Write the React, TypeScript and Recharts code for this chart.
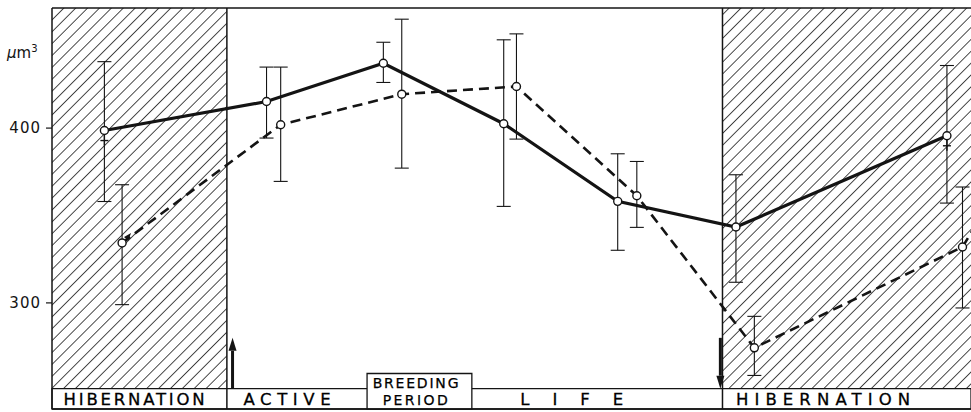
import { LineChart, Line, XAxis, YAxis, ErrorBar, ReferenceArea, ReferenceLine, ReferenceDot } from 'recharts'

// solid line (female), months counted from the first tick of the scale
const FEMALE_MONTH = [0.79, 3.08, 4.73, 6.43, 8.04, 9.71, 12.69]
const FEMALE_MEAN = [398.6, 415.2, 437.1, 402.5, 358.1, 343.4, 395.6]
const FEMALE_LOW = [358, 394.3, 426.1, 355.2, 330.1, 311.8, 357.1]
const FEMALE_HIGH = [438, 434.9, 449.1, 450.5, 385.3, 373.3, 435.8]
const FEMALE_SYMBOL = [true, false, false, false, false, false, true]

// dashed line (male); the last point lies past the right edge of the figure
const MALE_MONTH = [1.04, 3.28, 4.99, 6.61, 8.31, 9.97, 12.91, 13.4]
const MALE_MEAN = [334.3, 401.9, 419.4, 423.8, 361.3, 274.3, 332, 364.5]
const MALE_LOW = [299, 369.5, 377.1, 393.7, 343.2, 258.5, 297.1, null]
const MALE_HIGH = [367.6, 434.9, 462.3, 453.9, 380.9, 292.3, 366.3, null]
const MALE_SYMBOL = [true, false, false, false, false, false, false, false]

const Y_TICKS = [300, 400]
const MONTH_TICKS = [1, 2, 3, 4, 5, 6, 7, 8, 9, 10, 11, 12, 13]

const X_MIN = 0.05
const X_MAX = 13.03
const Y_MIN = 239.3
const Y_MAX = 468.7
const STRIP_TOP = 250.9
const BREEDING_TOP = 259.6
const ARROW_TOP = 280

const HIBERNATION_START = [X_MIN, 9.52]
const HIBERNATION_END = [2.52, X_MAX]
const BREEDING_START = 4.5
const BREEDING_END = 5.98
const ARRIVAL_MONTH = 2.6
const DEPARTURE_MONTH = 9.49

const STRIP_LABELS = ['HIBERNATION', 'ACTIVE', 'LIFE', 'HIBERNATION']
const STRIP_LABEL_MONTH = [1.21, 3.37, 7.39, 10.94]
const STRIP_SPACING = [2.8, 5.6, 23, 6.1]

const INK = '#141414'
const FONT = '"DejaVu Sans", sans-serif'

const build = (
  months: number[],
  means: number[],
  lows: (number | null)[],
  highs: (number | null)[],
  symbols: boolean[],
) =>
  months.map((m, i) => ({
    m,
    v: means[i],
    err: lows[i] == null || highs[i] == null ? undefined : [means[i] - (lows[i] as number), (highs[i] as number) - means[i]],
    sym: symbols[i],
  }))

const femaleData = build(FEMALE_MONTH, FEMALE_MEAN, FEMALE_LOW, FEMALE_HIGH, FEMALE_SYMBOL)
const maleData = build(MALE_MONTH, MALE_MEAN, MALE_LOW, MALE_HIGH, MALE_SYMBOL)

const femaleDot = (props: any) => {
  const { cx, cy, index, payload } = props
  return (
    <g key={`f${index}`}>
      {payload.sym && (
        <g stroke={INK} strokeWidth={1.4}>
          <line x1={cx} y1={cy + 4} x2={cx} y2={cy + 15} />
          <line x1={cx - 4} y1={cy + 10} x2={cx + 4} y2={cy + 10} />
        </g>
      )}
      <circle cx={cx} cy={cy} r={4} fill="#fff" stroke={INK} strokeWidth={1.4} />
    </g>
  )
}

const maleDot = (props: any) => {
  const { cx, cy, index, payload } = props
  return (
    <g key={`m${index}`}>
      {payload.sym && (
        <polygon
          points={`${cx + 9},${cy - 10} ${cx + 2},${cy - 6} ${cx + 6},${cy - 2}`}
          fill={INK}
        />
      )}
      <circle cx={cx} cy={cy} r={4} fill="#fff" stroke={INK} strokeWidth={1.4} />
    </g>
  )
}

const arrowShape = (props: any) => {
  const { x1, y1, x2, y2 } = props
  const dir = y2 < y1 ? -1 : 1
  const headLen = 13
  return (
    <g>
      <line x1={x1} y1={y1} x2={x2} y2={y2 - dir * headLen} stroke={INK} strokeWidth={3} />
      <polygon
        points={`${x2},${y2} ${x2 - 4},${y2 - dir * headLen} ${x2 + 4},${y2 - dir * headLen}`}
        fill={INK}
      />
    </g>
  )
}

const stripLabel = (text: string, spacing: number) => (props: any) => {
  const { viewBox } = props
  const cx = viewBox.x + viewBox.width / 2 + spacing / 2
  const cy = viewBox.y + viewBox.height / 2
  return (
    <text
      x={cx}
      y={cy + 6}
      textAnchor="middle"
      fontFamily={FONT}
      fontSize={16.5}
      letterSpacing={spacing}
      fill="#000"
      stroke="#000"
      strokeWidth={0.3}
    >
      {text}
    </text>
  )
}

const breedingLabel = (props: any) => {
  const { viewBox } = props
  const cx = viewBox.x + viewBox.width / 2 - 3
  const top = viewBox.y
  return (
    <text textAnchor="middle" fontFamily={FONT} fontSize={14} fill="#000" stroke="#000" strokeWidth={0.25}>
      <tspan x={cx} y={top + 14} letterSpacing={1.8}>BREEDING</tspan>
      <tspan x={cx} y={top + 31} letterSpacing={2.4}>PERIOD</tspan>
    </text>
  )
}

const unitLabel = (props: any) => {
  const { viewBox } = props
  return (
    <text x={viewBox.x + 7} y={viewBox.y + 50} fontFamily={FONT} fontSize={15} fill={INK}>
      <tspan fontStyle="italic">µ</tspan>
      <tspan>m</tspan>
      <tspan fontSize={10} dy={-6}>3</tspan>
    </text>
  )
}

export default function App() {
  const stripMid = (Y_MIN + STRIP_TOP) / 2
  return (
    <div style={{ position: 'absolute', left: 0, top: 0, width: 971, height: 412, background: '#fff' }}>
      <LineChart width={971} height={412} margin={{ top: 8, right: 0, bottom: 0, left: 0 }}>
        <defs>
          <pattern id="hatch" patternUnits="userSpaceOnUse" width={8.4} height={8.4} patternTransform="rotate(45)">
            <line x1={0} y1={0} x2={0} y2={8.4} stroke="#1e1e1e" strokeWidth={1.6} />
          </pattern>
        </defs>
        <XAxis
          type="number"
          dataKey="m"
          domain={[X_MIN, X_MAX]}
          allowDataOverflow
          ticks={MONTH_TICKS}
          tick={false}
          tickSize={3}
          height={3}
          axisLine={{ stroke: INK, strokeWidth: 1.5 }}
          tickLine={{ stroke: INK, strokeWidth: 1.2 }}
        />
        <YAxis
          type="number"
          domain={[Y_MIN, Y_MAX]}
          allowDataOverflow
          ticks={Y_TICKS}
          width={52}
          tickSize={6}
          tickMargin={5}
          axisLine={{ stroke: INK, strokeWidth: 1.5 }}
          tickLine={{ stroke: INK, strokeWidth: 1.2 }}
          tick={{ fill: INK, fontSize: 15, fontFamily: FONT, letterSpacing: 1 }}
          label={unitLabel}
        />

        {HIBERNATION_START.map((x1, i) => (
          <ReferenceArea
            key={`h${i}`}
            x1={x1}
            x2={HIBERNATION_END[i]}
            y1={STRIP_TOP}
            y2={Y_MAX}
            fill="url(#hatch)"
            fillOpacity={1}
            stroke="none"
          />
        ))}

        <ReferenceArea x1={X_MIN} x2={X_MAX} y1={Y_MIN} y2={STRIP_TOP} fill="#fff" fillOpacity={1} stroke={INK} strokeWidth={1.3} />
        <ReferenceArea
          x1={BREEDING_START}
          x2={BREEDING_END}
          y1={Y_MIN}
          y2={BREEDING_TOP}
          fill="#fff"
          fillOpacity={1}
          stroke={INK}
          strokeWidth={1.3}
          label={breedingLabel}
        />

        <ReferenceLine y={Y_MAX} stroke={INK} strokeWidth={1.5} />
        <ReferenceLine x={HIBERNATION_END[0]} stroke={INK} strokeWidth={1.5} />
        <ReferenceLine x={HIBERNATION_START[1]} stroke={INK} strokeWidth={1.5} />

        <ReferenceLine
          segment={[{ x: ARRIVAL_MONTH, y: STRIP_TOP }, { x: ARRIVAL_MONTH, y: ARROW_TOP }]}
          shape={arrowShape}
        />
        <ReferenceLine
          segment={[{ x: DEPARTURE_MONTH, y: ARROW_TOP }, { x: DEPARTURE_MONTH, y: STRIP_TOP }]}
          shape={arrowShape}
        />

        {STRIP_LABELS.map((text, i) => (
          <ReferenceDot
            key={`s${i}`}
            x={STRIP_LABEL_MONTH[i]}
            y={stripMid}
            r={0}
            fill="none"
            stroke="none"
            label={stripLabel(text, STRIP_SPACING[i])}
          />
        ))}

        <Line
          data={maleData}
          dataKey="v"
          type="linear"
          stroke={INK}
          strokeWidth={2.6}
          strokeDasharray="10 6"
          dot={maleDot}
          activeDot={false}
          isAnimationActive={false}
        >
          <ErrorBar dataKey="err" width={7} stroke={INK} strokeWidth={1.1} direction="y" />
        </Line>
        <Line
          data={femaleData}
          dataKey="v"
          type="linear"
          stroke={INK}
          strokeWidth={3.2}
          dot={femaleDot}
          activeDot={false}
          isAnimationActive={false}
        >
          <ErrorBar dataKey="err" width={7} stroke={INK} strokeWidth={1.1} direction="y" />
        </Line>
      </LineChart>
    </div>
  )
}
